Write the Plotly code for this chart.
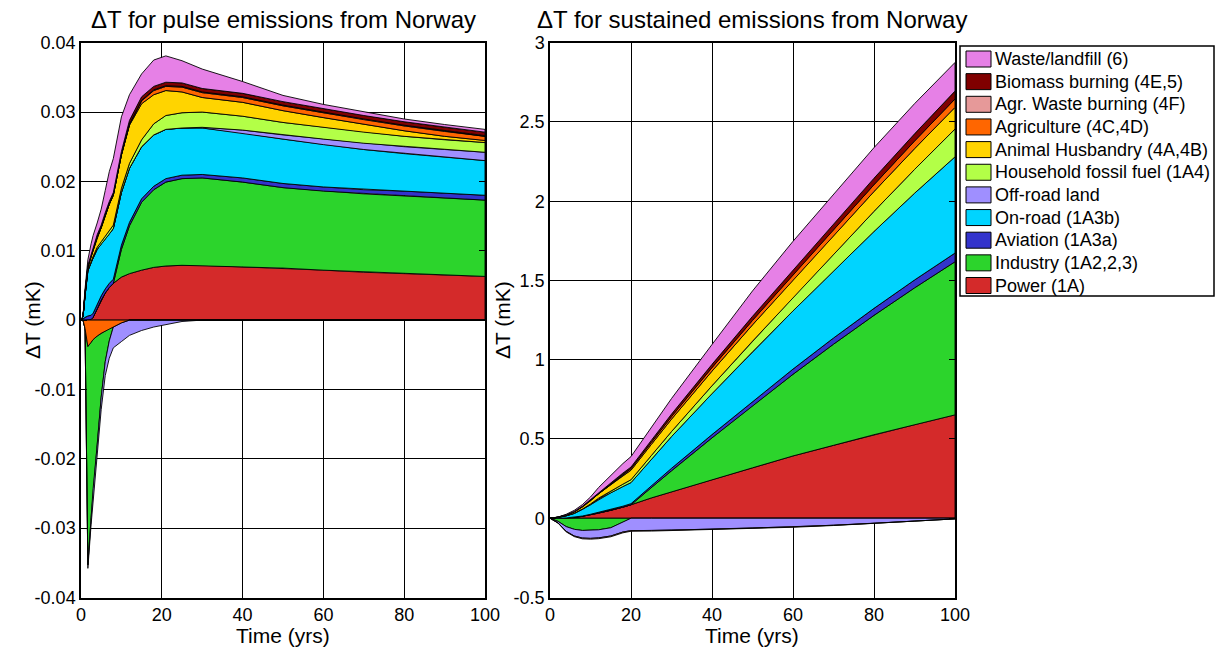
import plotly.graph_objects as go

W, H = 1215, 647

# ---------------- data ----------------
SECTORS = [
    "Power (1A)",
    "Industry (1A2,2,3)",
    "Aviation (1A3a)",
    "On-road (1A3b)",
    "Off-road land",
    "Household fossil fuel (1A4)",
    "Animal Husbandry (4A,4B)",
    "Agriculture (4C,4D)",
    "Agr. Waste burning (4F)",
    "Biomass burning (4E,5)",
    "Waste/landfill (6)",
]
COLORS = ["#D42A2A", "#2CD42C", "#3333CC", "#00D4FF", "#9F8FFF", "#B3FF47",
          "#FFD400", "#FF6600", "#E69999", "#800000", "#E680E6"]
# order in which negative contributions are stacked downward from zero
NEG_ORDER = ["Agriculture (4C,4D)", "Animal Husbandry (4A,4B)", "Industry (1A2,2,3)",
             "Off-road land", "Agr. Waste burning (4F)", "Power (1A)", "Aviation (1A3a)",
             "On-road (1A3b)", "Household fossil fuel (1A4)", "Biomass burning (4E,5)",
             "Waste/landfill (6)"]

pulse_years = [0, 0.5, 1, 1.7, 2.5, 3, 4, 5, 6, 7, 8, 10, 12, 15, 18, 21, 25, 30, 40, 50, 60, 70, 80, 90, 100]
pulse_power = [0, 0, 0, 0, 0.0001, 0.0004, 0.0016, 0.0029, 0.0039, 0.0047, 0.0053, 0.0062, 0.0067, 0.0072,
               0.0076, 0.0078, 0.0079, 0.0079, 0.0077, 0.0075, 0.0072, 0.0069, 0.0067, 0.0065, 0.0063]
pulse_industry = [0, 0, 0, -0.0315, -0.0253, -0.0215, -0.0157, -0.0092, -0.0044, -0.0018, 0, 0.004, 0.0069,
                  0.0098, 0.0112, 0.0121, 0.0125, 0.0126, 0.0122, 0.0116, 0.0114, 0.0113, 0.0112, 0.0111, 0.011]
pulse_aviation = [0, 0.0002, 0.0004, 0.0006, 0.0006, 0.0006, 0.0006, 0.0006, 0.0006, 0.0006, 0.0006, 0.0006,
                  0.0005, 0.0005, 0.0005, 0.0005, 0.0005, 0.0005, 0.0006, 0.0006, 0.0006, 0.0006, 0.0007, 0.0007, 0.0007]
pulse_onroad = [0, 0.0003, 0.0031, 0.0065, 0.0076, 0.008, 0.008, 0.0075, 0.0072, 0.0071, 0.0073, 0.0076, 0.0078,
                0.0075, 0.0074, 0.0071, 0.0068, 0.0067, 0.0065, 0.0064, 0.0061, 0.0058, 0.0054, 0.0052, 0.005]
pulse_offroad = [0, 0, 0, -0.0005, -0.001, -0.0012, -0.0015, -0.0018, -0.002, -0.0025, -0.003, -0.0027, -0.0022,
                 -0.0015, -0.001, -0.0006, -0.0002, 0.0001, 0.0004, 0.0006, 0.0008, 0.0009, 0.001, 0.0011, 0.0012]
pulse_household = [0, 0, 0.0001, 0.0001, 0.0002, 0.0002, 0.0003, 0.0003, 0.0004, 0.0004, 0.0005, 0.0006, 0.0007,
                   0.001, 0.0016, 0.002, 0.0022, 0.0022, 0.002, 0.0018, 0.0017, 0.0016, 0.0015, 0.0014, 0.0014]
pulse_animal = [0, 0, 0.0002, 0.0004, 0.0007, 0.0009, 0.0014, 0.002, 0.003, 0.0039, 0.0043, 0.0048, 0.0055,
                0.0052, 0.0042, 0.0036, 0.003, 0.0021, 0.002, 0.0017, 0.0014, 0.0011, 0.0008, 0.0005, 0.0003]
pulse_agriculture = [0, 0, -0.0012, -0.0038, -0.0032, -0.0028, -0.0023, -0.0019, -0.0016, -0.0012, -0.001,
                     -0.0004, 0.0001, 0.0004, 0.0006, 0.0006, 0.0007, 0.0007, 0.0007, 0.0007, 0.0007, 0.0007,
                     0.0007, 0.0007, 0.0006]
pulse_agr_waste = [0, 0, 0.0001, 0.0001, 0.0001, 0.0001, 0.0001, 0.0001, 0.0001, 0.0001, 0.0001, 0.0001, 0.0001,
                   0.0001, 0.0001, 0.0001, 0.0001, 0.0001, 0.0001, 0.0001, 0.0001, 0.0001, 0.0001, 0.0001, 0.0001]
pulse_biomass = [0, 0, 0.0001, 0.0002, 0.0002, 0.0003, 0.0003, 0.0003, 0.0003, 0.0003, 0.0003, 0.0004, 0.0005,
                 0.0005, 0.0005, 0.0005, 0.0005, 0.0005, 0.0005, 0.0005, 0.0005, 0.0005, 0.0005, 0.0005, 0.0005]
pulse_waste = [0, 0.0002, 0.0005, 0.0008, 0.0015, 0.0017, 0.0017, 0.0023, 0.0032, 0.0043, 0.0049, 0.005, 0.0037,
               0.0033, 0.0038, 0.0038, 0.0032, 0.0028, 0.0017, 0.0009, 0.0006, 0.0005, 0.0004, 0.0004, 0.0004]

sust_years = [0, 2, 4, 6, 8, 10, 12, 15, 18, 20, 25, 30, 40, 50, 60, 70, 80, 90, 100]
sust_power = [0, 0, 0.001, 0.004, 0.012, 0.022, 0.032, 0.05, 0.07, 0.085, 0.128, 0.167, 0.243, 0.318, 0.393,
              0.46, 0.527, 0.59, 0.652]
sust_industry = [0, -0.02, -0.053, -0.07, -0.077, -0.077, -0.073, -0.06, -0.025, 0, 0.066, 0.133, 0.264, 0.392,
                 0.515, 0.638, 0.753, 0.863, 0.966]
sust_aviation = [0, 0.0005, 0.001, 0.002, 0.002, 0.003, 0.004, 0.005, 0.006, 0.007, 0.011, 0.015, 0.021, 0.027,
                 0.033, 0.039, 0.044, 0.05, 0.055]
sust_onroad = [0, 0.0045, 0.013, 0.024, 0.041, 0.06, 0.084, 0.105, 0.124, 0.133, 0.165, 0.2, 0.258, 0.313, 0.367,
               0.422, 0.485, 0.547, 0.607]
sust_offroad = [0, -0.01, -0.03, -0.042, -0.048, -0.05, -0.051, -0.052, -0.062, -0.078, -0.077, -0.075, -0.069,
                -0.062, -0.054, -0.044, -0.032, -0.018, -0.004]
sust_household = [0, 0.0005, 0.001, 0.002, 0.003, 0.005, 0.007, 0.01, 0.015, 0.018, 0.025, 0.032, 0.05, 0.067,
                  0.085, 0.105, 0.127, 0.15, 0.175]
sust_animal = [0, 0.001, 0.004, 0.008, 0.013, 0.02, 0.028, 0.04, 0.053, 0.06, 0.07, 0.078, 0.092, 0.103, 0.11,
               0.118, 0.125, 0.131, 0.137]
sust_agriculture = [0, 0, 0, 0.001, 0.002, 0.003, 0.004, 0.006, 0.008, 0.01, 0.013, 0.016, 0.022, 0.028, 0.033,
                    0.038, 0.043, 0.048, 0.053]
sust_agr_waste = [0, -0.001, -0.003, -0.004, -0.005, -0.005, -0.005, -0.005, -0.005, -0.004, -0.004, -0.004,
                  -0.003, -0.003, -0.003, -0.002, -0.002, -0.002, -0.002]
sust_biomass = [0, 0.0005, 0.001, 0.002, 0.003, 0.004, 0.005, 0.007, 0.009, 0.01, 0.013, 0.016, 0.021, 0.026,
                0.031, 0.036, 0.041, 0.046, 0.05]
sust_waste = [0, 0.001, 0.004, 0.007, 0.01, 0.017, 0.03, 0.048, 0.06, 0.066, 0.08, 0.098, 0.125, 0.16, 0.18,
              0.19, 0.193, 0.19, 0.18]

pulse = dict(zip(SECTORS, [pulse_power, pulse_industry, pulse_aviation, pulse_onroad, pulse_offroad,
                           pulse_household, pulse_animal, pulse_agriculture, pulse_agr_waste, pulse_biomass,
                           pulse_waste]))
sust = dict(zip(SECTORS, [sust_power, sust_industry, sust_aviation, sust_onroad, sust_offroad,
                          sust_household, sust_animal, sust_agriculture, sust_agr_waste, sust_biomass,
                          sust_waste]))

x_ticks = [0, 20, 40, 60, 80, 100]
pulse_yticks = [-0.04, -0.03, -0.02, -0.01, 0, 0.01, 0.02, 0.03, 0.04]
pulse_yticktext = ["-0.04", "-0.03", "-0.02", "-0.01", "0", "0.01", "0.02", "0.03", "0.04"]
sust_yticks = [-0.5, 0, 0.5, 1, 1.5, 2, 2.5, 3]
sust_yticktext = ["-0.5", "0", "0.5", "1", "1.5", "2", "2.5", "3"]

TITLE_PULSE = "\u0394T for pulse emissions from Norway"
TITLE_SUST = "\u0394T for sustained emissions from Norway"
Y_TITLE = "\u0394T (mK)"
X_TITLE = "Time (yrs)"

FONT = "Liberation Sans, Arial, sans-serif"

# ---------------- figure ----------------
fig = go.Figure()


def add_panel(years, series, xa, ya):
    n = len(years)
    pos = [0.0] * n
    neg = [0.0] * n
    bands = {}
    for name in SECTORS:
        p = [max(v, 0.0) for v in series[name]]
        if any(p):
            bottom = pos[:]
            top = [b + q for b, q in zip(bottom, p)]
            pos = top
            bands[(name, "+")] = (bottom, top)
    for name in NEG_ORDER:
        q = [min(v, 0.0) for v in series[name]]
        if any(q):
            top = neg[:]
            bottom = [a + b for a, b in zip(top, q)]
            neg = bottom
            bands[(name, "-")] = (bottom, top)
    for name, color in zip(SECTORS, COLORS):
        for sign in "+-":
            if (name, sign) not in bands:
                continue
            bottom, top = bands[(name, sign)]
            fig.add_trace(go.Scatter(
                x=list(years) + list(years)[::-1],
                y=top + bottom[::-1],
                fill="toself", fillcolor=color, mode="lines",
                line=dict(color="black", width=0.9),
                name=name, showlegend=False, hoverinfo="skip",
                xaxis=xa, yaxis=ya))


add_panel(pulse_years, pulse, "x", "y")
add_panel(sust_years, sust, "x2", "y2")


def px_x(p):
    return p / W


def px_y(p):
    return 1 - p / H


ydom = [px_y(597.5), px_y(42.7)]
axis_common = dict(
    showline=True, linecolor="black", linewidth=1.5, mirror="allticks",
    ticks="inside", ticklen=6, tickcolor="black", tickwidth=1,
    showgrid=True, gridcolor="black", gridwidth=1, zeroline=False, automargin=False,
    tickfont=dict(family=FONT, size=18, color="black"),
)

fig.update_layout(
    width=W, height=H, plot_bgcolor="white", paper_bgcolor="white",
    margin=dict(l=0, r=0, t=0, b=0, autoexpand=False), showlegend=False,
    xaxis=dict(domain=[px_x(81), px_x(485)], range=[0, 100], tickvals=x_ticks,
               anchor="y", **axis_common),
    yaxis=dict(domain=ydom, range=[-0.04, 0.04], tickvals=pulse_yticks, ticktext=pulse_yticktext,
               anchor="x", **axis_common),
    xaxis2=dict(domain=[px_x(550), px_x(955)], range=[0, 100], tickvals=x_ticks,
                anchor="y2", **axis_common),
    yaxis2=dict(domain=ydom, range=[-0.5, 3], tickvals=sust_yticks, ticktext=sust_yticktext,
                anchor="x2", **axis_common),
)

ann = []
ann.append(dict(text=TITLE_PULSE, x=px_x(283), y=px_y(19), xref="paper", yref="paper",
                showarrow=False, xanchor="center", yanchor="middle",
                font=dict(family=FONT, size=24, color="black")))
ann.append(dict(text=TITLE_SUST, x=px_x(752), y=px_y(19), xref="paper", yref="paper",
                showarrow=False, xanchor="center", yanchor="middle",
                font=dict(family=FONT, size=24, color="black")))
for xc in (283, 752):
    ann.append(dict(text=X_TITLE, x=px_x(xc), y=px_y(635), xref="paper", yref="paper",
                    showarrow=False, xanchor="center", yanchor="middle",
                    font=dict(family=FONT, size=21, color="black")))
for xc in (33, 503):
    ann.append(dict(text=Y_TITLE, x=px_x(xc), y=px_y(320), xref="paper", yref="paper",
                    showarrow=False, xanchor="center", yanchor="middle", textangle=-90,
                    font=dict(family=FONT, size=21, color="black")))

# legend (manual box, top entry is the last stacked sector)
shapes = [dict(type="rect", xref="paper", yref="paper",
               x0=px_x(960), x1=px_x(1214), y0=px_y(296), y1=px_y(46),
               line=dict(color="black", width=1.5), fillcolor="white")]
for i, (name, color) in enumerate(zip(SECTORS[::-1], COLORS[::-1])):
    cy = 59 + 22.65 * i
    shapes.append(dict(type="rect", xref="paper", yref="paper",
                       x0=px_x(966), x1=px_x(991), y0=px_y(cy + 8), y1=px_y(cy - 8),
                       line=dict(color="black", width=1), fillcolor=color))
    ann.append(dict(text=name, x=px_x(993), y=px_y(cy), xref="paper", yref="paper",
                    showarrow=False, xanchor="left", yanchor="middle",
                    font=dict(family=FONT, size=18, color="black")))

fig.update_layout(annotations=ann, shapes=shapes)
fig.write_html("out.html", config={"displayModeBar": False},
               post_script="document.body.style.margin='0px';document.body.style.overflow='hidden';")
